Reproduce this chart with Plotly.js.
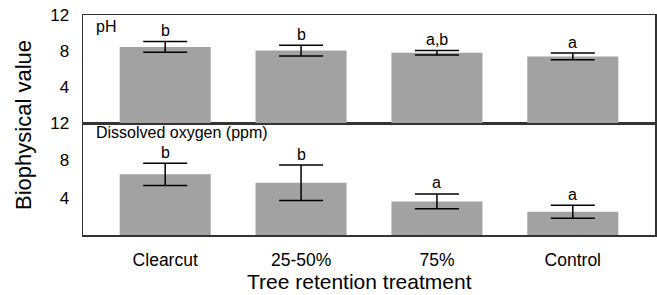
<!DOCTYPE html>
<html>
<head>
<meta charset="utf-8">
<script src="https://cdn.plot.ly/plotly-3.0.1.min.js"></script>
<style>html,body{margin:0;padding:0;background:#fff;}#chart{width:657px;height:295px;}</style>
</head>
<body>
<div id="chart"></div>
<script>
var categories = ['Clearcut', '25-50%', '75%', 'Control'];
var phMean = [8.45, 8.05, 7.8, 7.4];
var phErr = [0.6, 0.6, 0.25, 0.37];
var phLetters = ['b', 'b', 'a,b', 'a'];
var doMean = [6.5, 5.6, 3.6, 2.5];
var doErr = [1.2, 1.9, 0.8, 0.7];
var doLetters = ['b', 'b', 'a', 'a'];
var yTicks = [4, 8, 12];

var FONT = 'Liberation Sans, Arial, sans-serif';
var barColor = '#a2a2a2';

var traces = [
  {type: 'bar', x: categories, y: phMean, xaxis: 'x2', yaxis: 'y2',
   marker: {color: barColor, line: {width: 0}},
   error_y: {type: 'data', array: phErr, visible: true, color: '#000', thickness: 1.5, width: 22},
   hoverinfo: 'skip'},
  {type: 'bar', x: categories, y: doMean, xaxis: 'x', yaxis: 'y',
   marker: {color: barColor, line: {width: 0}},
   error_y: {type: 'data', array: doErr, visible: true, color: '#000', thickness: 1.5, width: 22},
   hoverinfo: 'skip'}
];

var annotations = [];
categories.forEach(function (c, i) {
  annotations.push({xref: 'x2', yref: 'y2', x: c, y: phMean[i] + phErr[i], text: phLetters[i],
    showarrow: false, yanchor: 'bottom', yshift: 1.5, borderpad: 0, font: {family: FONT, size: 16, color: '#000'}});
  annotations.push({xref: 'x', yref: 'y', x: c, y: doMean[i] + doErr[i], text: doLetters[i],
    showarrow: false, yanchor: 'bottom', yshift: 1.5, borderpad: 0, font: {family: FONT, size: 16, color: '#000'}});
});
annotations.push({xref: 'paper', yref: 'paper', x: 0.021, y: 0.99, xanchor: 'left', yanchor: 'top',
  text: 'pH', showarrow: false, borderpad: 0, font: {family: FONT, size: 16, color: '#000'}});
annotations.push({xref: 'paper', yref: 'paper', x: 0.021, y: 0.509, xanchor: 'left', yanchor: 'top',
  text: 'Dissolved oxygen (ppm)', showarrow: false, borderpad: 0, font: {family: FONT, size: 16, color: '#000'}});
annotations.push({xref: 'paper', yref: 'paper', x: -0.105, y: 0.5, xanchor: 'center', yanchor: 'middle',
  textangle: -90, text: 'Biophysical value', showarrow: false, font: {family: FONT, size: 22, color: '#000'}});
annotations.push({xref: 'paper', yref: 'paper', x: 0.484, y: -0.212, xanchor: 'center', yanchor: 'middle',
  text: 'Tree retention treatment', showarrow: false, font: {family: FONT, size: 21, color: '#000'}});

var axLine = {showline: true, mirror: true, linecolor: '#333', linewidth: 1.5, zeroline: false, showgrid: false};

var layout = {
  width: 657, height: 295,
  margin: {l: 83, r: 2, t: 15, b: 60},
  paper_bgcolor: '#fff', plot_bgcolor: '#fff',
  showlegend: false,
  bargap: 0.33,
  font: {family: FONT, color: '#000'},
  xaxis: Object.assign({}, axLine, {anchor: 'y', range: [-0.605, 3.605], ticks: '', ticklabelstandoff: 8,
    tickfont: {family: FONT, size: 17.5, color: '#000'}}),
  xaxis2: Object.assign({}, axLine, {anchor: 'y2', matches: 'x', range: [-0.605, 3.605], ticks: '', showticklabels: false}),
  yaxis: Object.assign({}, axLine, {domain: [0, 0.509], range: [0, 12], tickvals: yTicks, ticks: '',
    ticklabelstandoff: 9, tickfont: {family: FONT, size: 17, color: '#000'}}),
  yaxis2: Object.assign({}, axLine, {domain: [0.509, 1], range: [0, 12], tickvals: yTicks, ticks: '',
    ticklabelstandoff: 9, tickfont: {family: FONT, size: 17, color: '#000'}}),
  annotations: annotations
};

Plotly.newPlot('chart', traces, layout, {displayModeBar: false, staticPlot: true});
</script>
</body>
</html>
